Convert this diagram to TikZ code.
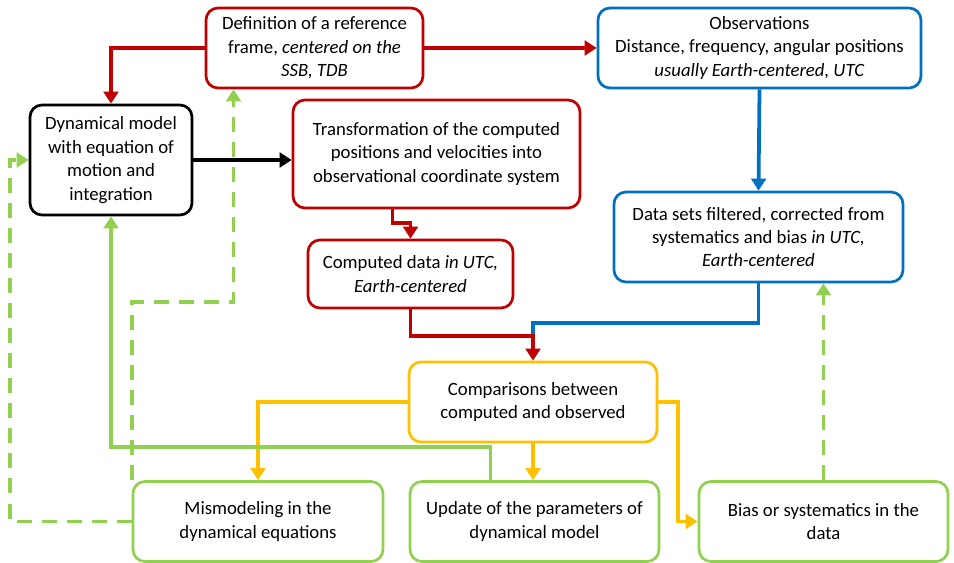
\documentclass[tikz,border=0pt]{standalone}
\usepackage{fontspec}
\setmainfont{Carlito}
\usepackage{tikz}
\usetikzlibrary{calc,positioning,arrows.meta}
\definecolor{colorred}{HTML}{C00000}
\definecolor{colorblue}{HTML}{0070C0}
\definecolor{coloryel}{HTML}{FFC000}
\definecolor{colorgrn}{HTML}{92D050}
\tikzset{box/.style={draw, rounded corners=0.36cm, line width=2.3pt, align=center, inner sep=0pt, font=\fontsize{16}{20}\selectfont}}
\tikzset{
  edgered/.style={colorred, line width=3.2pt, -{Triangle[width=0.44cm,length=0.36cm]}},
  edgeblue/.style={colorblue, line width=3.2pt, -{Triangle[width=0.44cm,length=0.36cm]}},
  edgeyel/.style={coloryel, line width=3.2pt, -{Triangle[width=0.44cm,length=0.36cm]}},
  edgegrn/.style={colorgrn, line width=3.2pt, -{Triangle[width=0.44cm,length=0.36cm]}},
  edgegrnd/.style={colorgrn, line width=3.2pt, dash pattern=on 0.45cm off 0.3cm, -{Triangle[width=0.44cm,length=0.36cm]}},
  edgeblk/.style={black, line width=3.2pt, -{Triangle[width=0.44cm,length=0.36cm]}}
}

\begin{document}
\begin{tikzpicture}[x=0.03cm, y=-0.03cm]
\useasboundingbox (0,0) rectangle (954,563);
% boxes
\node[box, colorred, minimum width=6.51cm, minimum height=2.4cm] (defn) at (314.5,48)
  {\color{black}Definition of a reference\\\color{black}frame, \textit{centered on the}\\\color{black}\textit{SSB, TDB}};
\node[box, colorblue, minimum width=9.69cm, minimum height=2.4cm] (obs) at (759.5,48)
  {\color{black}Observations\\\color{black}Distance, frequency, angular positions\\\color{black}\textit{usually Earth-centered, UTC}};
\node[box, black, minimum width=4.86cm, minimum height=3.3cm] (dyn) at (111,160)
  {Dynamical model\\with equation of\\motion and\\integration};
\node[box, colorred, minimum width=8.61cm, minimum height=3.24cm] (trans) at (436.5,154)
  {\color{black}Transformation of the computed\\\color{black}positions and velocities into\\\color{black}observational coordinate system};
\node[box, colorred, minimum width=6.15cm, minimum height=2.04cm] (comp) at (410.5,274)
  {\color{black}Computed data \textit{in UTC,}\\\color{black}\textit{Earth-centered}};
\node[box, colorblue, minimum width=8.67cm, minimum height=2.7cm] (data) at (758.5,237)
  {\color{black}Data sets filtered, corrected from\\\color{black}systematics and bias \textit{in UTC,}\\\color{black}\textit{Earth-centered}};
\node[box, coloryel, minimum width=7.44cm, minimum height=2.4cm] (cmp) at (533,402)
  {\color{black}Comparisons between\\\color{black}computed and observed};
\node[box, colorgrn, minimum width=7.5cm, minimum height=2.4cm] (mis) at (258,521.5)
  {\color{black}Mismodeling in the\\\color{black}dynamical equations};
\node[box, colorgrn, minimum width=7.47cm, minimum height=2.4cm] (upd) at (534.5,521.5)
  {\color{black}Update of the parameters of\\\color{black}dynamical model};
\node[box, colorgrn, minimum width=7.47cm, minimum height=2.4cm] (bias) at (823.5,521.5)
  {\color{black}Bias or systematics in the\\\color{black}data};
% connectors
\draw[edgered] (defn.west) -| (dyn.north);
\draw[edgered] (defn.east) -- (obs.west);
\draw[edgeblk] (dyn.east) -- (dyn.east -| trans.west);
\draw[edgered] ($(trans.south)+(-44,0)$) -- ++(0,14) -| (comp.north);
\draw[edgeblue] (obs.south) -- (data.north);
\draw[colorblue, line width=3.2pt] (data.south) -- ++(0,40) -| ($(cmp.north)+(0,-27)$);
\draw[edgered] (comp.south) -- ++(0,27) -| (cmp.north);
\draw[edgeyel] (cmp.west) -| (mis.north);
\draw[edgeyel] (cmp.south) -- (cmp.south |- upd.north);
\draw[edgeyel] (cmp.east) -- ++(20,0) |- (bias.west);
\draw[edgegrn] ($(upd.north)+(-44,0)$) -- ++(0,-33) -| (dyn.south);
\draw[edgegrnd] (mis.west) -- ++(-122,0) |- (dyn.west);
\draw[edgegrnd] (mis.north west) -- ++(0,-178) -| ($(defn.south)+(-81,0)$);
\draw[edgegrnd] (bias.north) -- (bias.north |- data.south);
\end{tikzpicture}
\end{document}
